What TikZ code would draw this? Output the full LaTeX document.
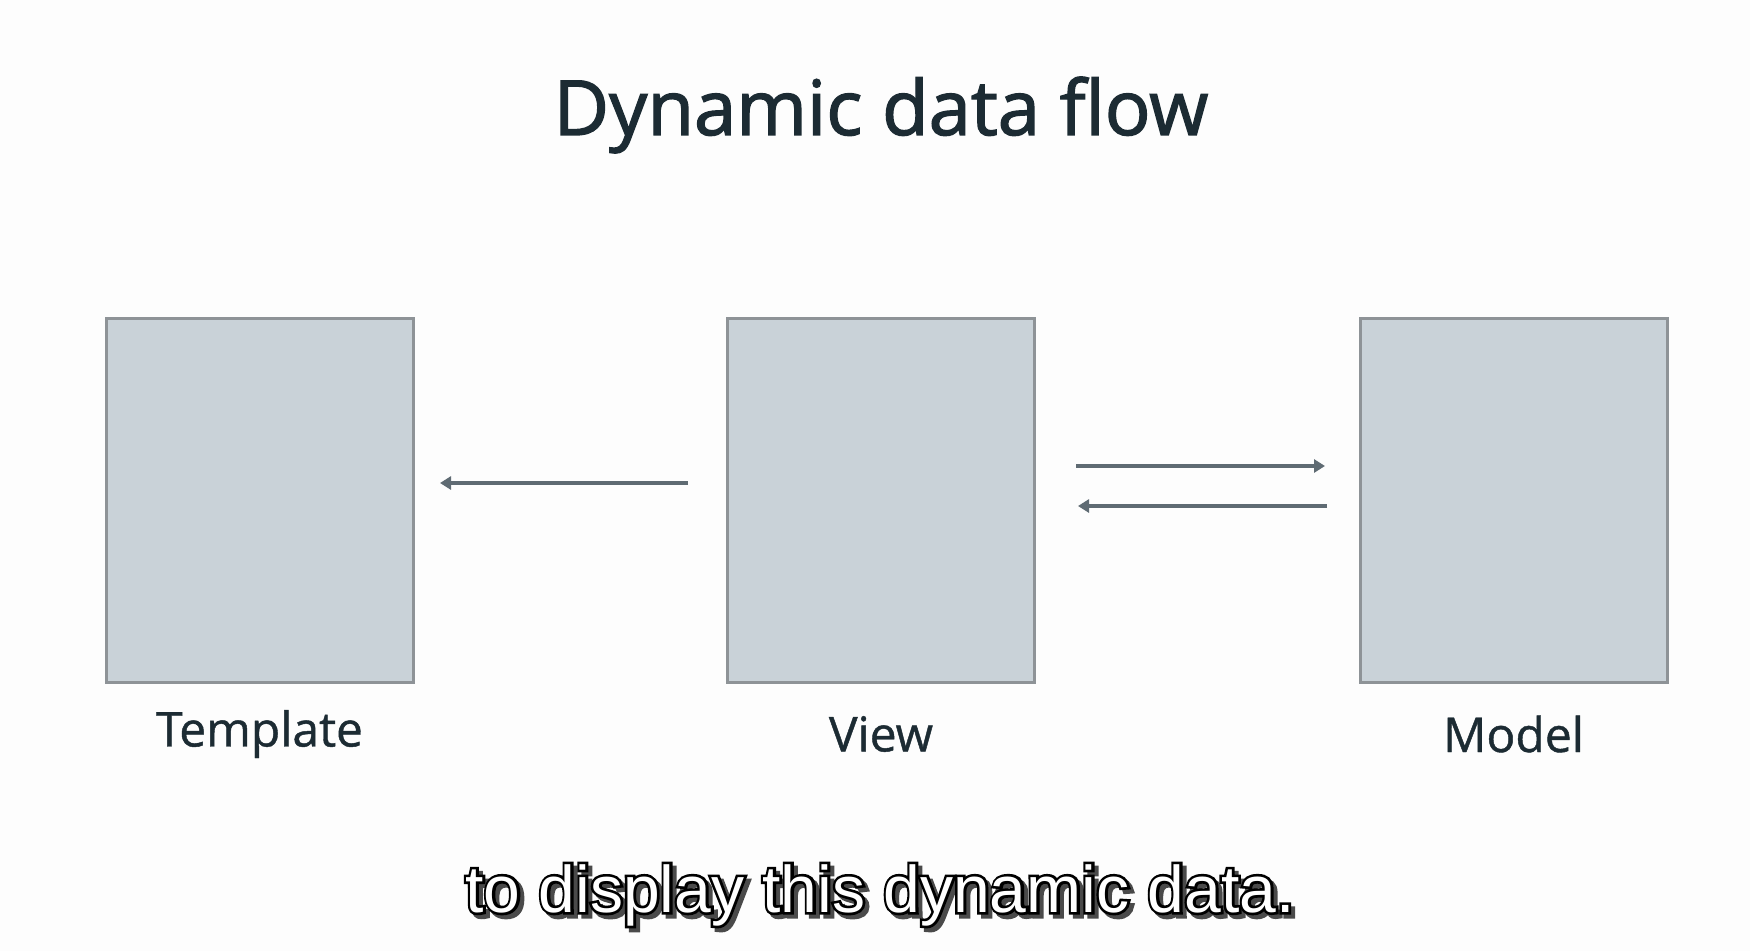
\documentclass[tikz,border=0pt]{standalone}
\usepackage{fontspec}
\setmainfont{Open Sans}
\newfontfamily\capfont{Liberation Sans}
\newfontfamily\capedge[FakeBold=8]{Liberation Sans}
\newfontfamily\headfont[FakeBold=1.8]{Open Sans}
\newfontfamily\labelfont[FakeBold=0.9]{Open Sans}
\usetikzlibrary{arrows.meta}
\definecolor{bg}{HTML}{FDFDFD}
\definecolor{ink}{HTML}{1C2B33}
\definecolor{boxfill}{HTML}{C9D2D8}
\definecolor{boxline}{HTML}{8E9397}
\definecolor{arrowcol}{HTML}{5F6B73}
\definecolor{shade}{HTML}{4A4A4A}
\tikzset{
  panel/.style={draw=boxline, fill=boxfill, line width=3pt, minimum width=307pt, minimum height=364pt, inner sep=0pt},
  caption/.style={text=ink, font=\labelfont\fontsize{48}{56}\selectfont, anchor=center},
  flow/.style={draw=arrowcol, line width=3.5pt, -{Triangle[length=11pt, width=13pt]}},
}
\newcommand{\subline}{to display this dynamic data.}
\begin{document}
\begin{tikzpicture}[x=1pt, y=-1pt]
  \fill[bg] (0,0) rectangle (1750,951);
  \useasboundingbox (0,0) rectangle (1750,951);

  % heading
  \node[text=ink, font=\headfont\fontsize{76}{90}\selectfont] (title) at (881,115) {Dynamic data flow};

  % the three panels
  \node[panel] (template) at (259.5,500) {};
  \node[panel] (view) at (881,500) {};
  \node[panel] (model) at (1513.5,500) {};

  \node[caption] (tlabel) at (259.5,734) {Template};
  \node[caption] (vlabel) at (881,734) {View};
  \node[caption] (mlabel) at (1513.5,734) {Model};

  % arrow end points
  \coordinate (a1s) at (688,483);
  \coordinate (a1e) at (440,483);
  \coordinate (a2s) at (1076,466);
  \coordinate (a2e) at (1325,466);
  \coordinate (a3s) at (1327,506);
  \coordinate (a3e) at (1078,506);

  \draw[flow] (a1s) -- (a1e);
  \draw[flow] (a2s) -- (a2e);
  \draw[flow] (a3s) -- (a3e);

  % caption line: drop shadow, black edge, white lettering
  \node[font=\fontsize{66}{76}\selectfont] (sub) at (880,897)
    {\rlap{\hspace*{4pt}\raisebox{-4pt}{\capedge\textcolor{shade}{\subline}}}%
     \rlap{\capedge\textcolor{black}{\subline}}%
     {\capfont\textcolor{white}{\subline}}};
\end{tikzpicture}
\end{document}
